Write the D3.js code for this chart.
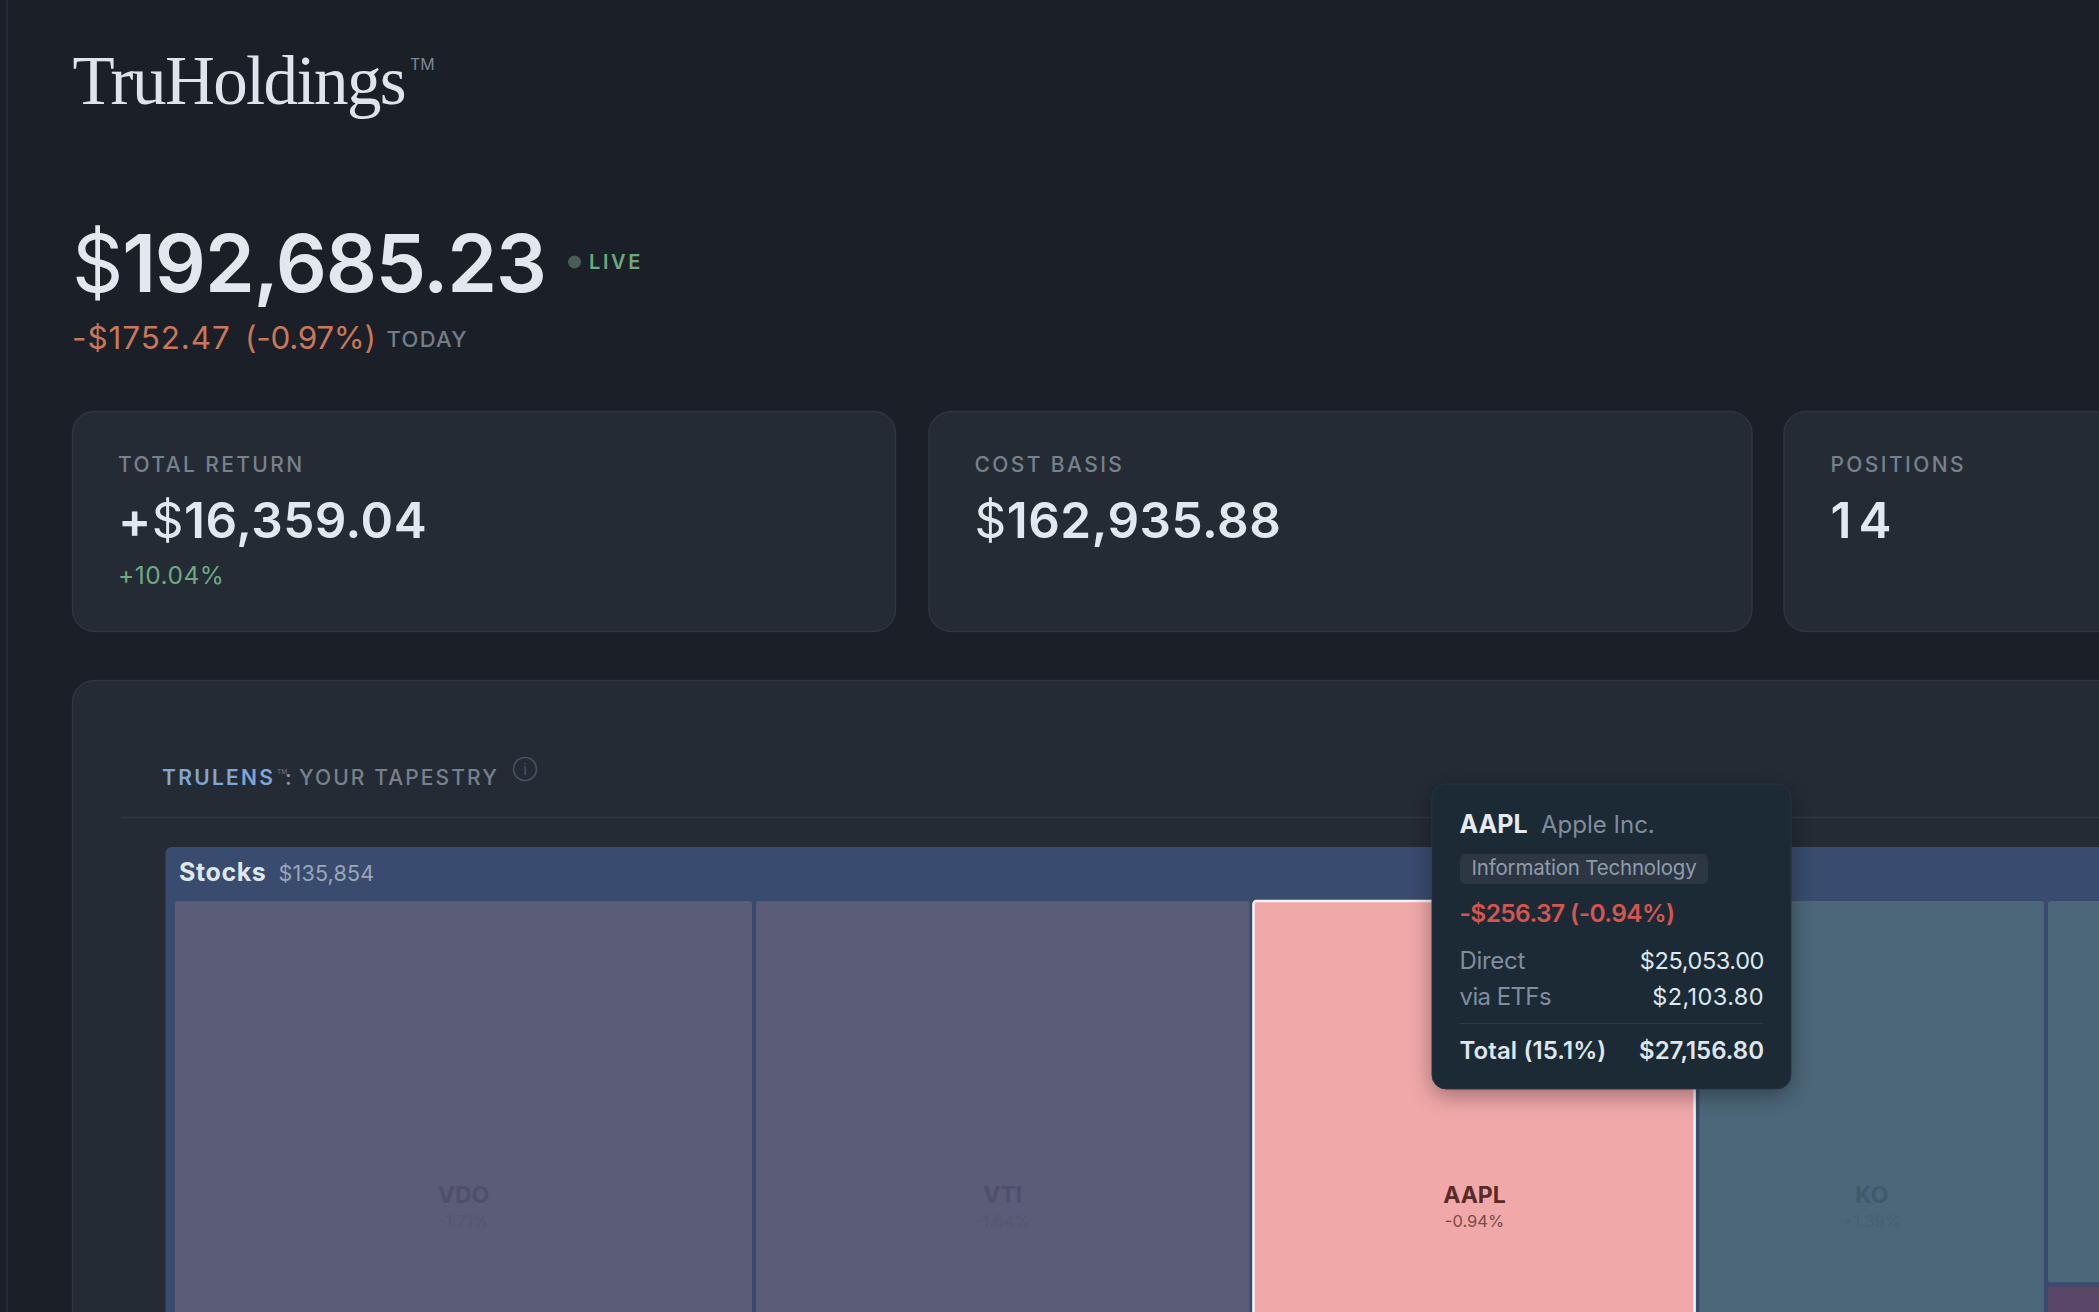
<!DOCTYPE html>
<html>
<head>
<meta charset="utf-8">
<script src="https://cdn.jsdelivr.net/npm/d3@7"></script>
<style>
html, body { margin: 0; padding: 0; background: #1a1f28; overflow: hidden; }
svg { display: block; }
text { font-family: Inter, "Noto Sans", sans-serif; }
</style>
</head>
<body>
<script>
// holdings shown in the tapestry
var tickers = ['VDO', 'VTI', 'AAPL', 'KO'],
	tickerValues = [35370, 30283, 27156.8, 21210],
	tickerChanges = ['-1.71%', '-1.64%', '-0.94%', '+1.39%'],
	sideValues = [13743, 8091],
	groupLabel = 'Stocks',
	groupTotal = '$135,854';

var cards = ['TOTAL RETURN', 'COST BASIS', 'POSITIONS'],
	cardValues = ['16,359.04', '162,935.88', '14'],
	tipRows = ['Direct', 'via ETFs'],
	tipAmounts = ['$25,053.00', '$2,103.80'];

var fills = {VDO: '#5b5c78', VTI: '#5b5c78', AAPL: '#f0a8a8', KO: '#4c6779', side0: '#4c6779', side1: '#5a4666'},
	inks = {VDO: '#4e4f6a', VTI: '#4e4f6a', AAPL: '#5a2a28', KO: '#3f5a6b'},
	subInks = {VDO: '#555671', VTI: '#555671', AAPL: '#7d4a4c', KO: '#466172'};

var svg = d3.select('body').append('svg').attr('width', 2099).attr('height', 1312);

var defs = svg.append('defs');
defs.append('filter').attr('id', 'tip-shadow').attr('x', '-20%').attr('y', '-20%').attr('width', '140%').attr('height', '140%')
	.append('feDropShadow').attr('dx', 0).attr('dy', 6).attr('stdDeviation', 11).attr('flood-color', '#000').attr('flood-opacity', 0.35);

function label(parent, x, y, str, size, weight, color, spacing) {
	return parent.append('text').attr('x', x).attr('y', y).text(str)
		.attr('font-size', size).attr('font-weight', weight).attr('fill', color)
		.attr('letter-spacing', spacing || 0);
}

svg.append('rect').attr('x', 6).attr('y', 0).attr('width', 2).attr('height', 1312).attr('fill', '#252b34');

// header
label(svg, 72.5, 104, 'TruHoldings', 69, 400, '#dfe4ec', -1.6).style('font-family', '"Liberation Serif", serif');
label(svg, 410, 70, 'TM', 16, 400, '#7c8794');

var big = label(svg, 72, 292, '', 80, 600, '#e2e8f0', -1.15);
big.append('tspan').attr('font-weight', 400).text('$');
big.append('tspan').text('192,685.23');
svg.append('circle').attr('cx', 574.5).attr('cy', 262).attr('r', 6.5).attr('fill', '#4a5c58');
label(svg, 589, 269, 'LIVE', 20, 600, '#6caa7e', 2.6);

label(svg, 72, 349, '-$1752.47', 31.5, 400, '#c9775a', 0.9);
label(svg, 245, 349, '(-0.97%)', 31.5, 400, '#c9775a', -0.3);
label(svg, 386.5, 346.5, 'TODAY', 22, 500, '#727d89', 1.3);

// summary cards
var cardX = [72.5, 929, 1784];
cards.forEach(function(name, i) {
	var x = cardX[i], tx = x + 45.5;
	svg.append('rect').attr('x', x).attr('y', 411.5).attr('width', 823).attr('height', 220).attr('rx', 22)
		.attr('fill', '#242b34').attr('stroke', '#2f3640').attr('stroke-width', 1.5);
	label(svg, tx + (i === 2 ? 1 : 0), 471.7, name, 21, 500, '#76818d', 2.4);
	var val = label(svg, tx + (i === 2 ? 1 : 0), 537.7, '', 49.5, 600, '#e2e8f0', i === 2 ? 7 : 0.5);
	if (i === 0) val.append('tspan').text('+');
	if (i < 2) val.append('tspan').attr('font-weight', 400).text('$');
	val.append('tspan').text(cardValues[i]);
});
label(svg, 118, 584, '+10.04%', 24.5, 400, '#6fa882', 0.5);

// tapestry panel
svg.append('rect').attr('x', 72.5).attr('y', 680.5).attr('width', 2200).attr('height', 800).attr('rx', 22)
	.attr('fill', '#242b34').attr('stroke', '#2f3640').attr('stroke-width', 1.5);
label(svg, 162, 785, 'TRULENS', 21, 600, '#7fa6d4', 2.3);
label(svg, 277, 773.5, 'TM', 6.5, 400, '#6f7a86');
label(svg, 285, 785, ':', 21, 600, '#8a95a2');
label(svg, 299, 785, 'YOUR TAPESTRY', 21, 500, '#76818d', 2.1);
svg.append('circle').attr('cx', 525).attr('cy', 769).attr('r', 11.5).attr('fill', 'none').attr('stroke', '#4a5460').attr('stroke-width', 1.5);
label(svg, 525, 775, 'i', 15, 400, '#4a5460').attr('text-anchor', 'middle');
svg.append('rect').attr('x', 121.5).attr('y', 816.5).attr('width', 2000).attr('height', 1.5).attr('fill', '#2f3640');

// treemap: holdings laid out side by side, last column stacked
var children = tickers.map(function(t, i) {
	return {id: t, change: tickerChanges[i], value: tickerValues[i]};
});
children.push({id: 'side', children: sideValues.map(function(v, i) {
	return {id: 'side' + i, value: v};
})});

var root = d3.hierarchy({id: groupLabel, children: children}).sum(function(d) { return d.value || 0; });

d3.treemap()
	.size([2245.6, 671])
	.paddingTop(function(d) { return d.depth === 0 ? 54 : 0; })
	.paddingLeft(function(d) { return d.depth === 0 ? 9.5 : 0; })
	.paddingRight(function(d) { return d.depth === 0 ? 8.5 : 0; })
	.paddingBottom(function(d) { return d.depth === 0 ? 9 : 0; })
	.paddingInner(4)
	.tile(function(node, x0, y0, x1, y1) {
		(node.depth === 0 ? d3.treemapDice : d3.treemapSlice)(node, x0, y0, x1, y1);
	})(root);

var map = svg.append('g').attr('transform', 'translate(165.5,847)');

map.append('rect').attr('x', root.x0).attr('y', root.y0).attr('width', root.x1 - root.x0).attr('height', root.y1 - root.y0)
	.attr('rx', 6).attr('fill', '#394b6e');
label(map, 13.5, 33.7, groupLabel, 25, 700, '#dfe6f0', 0.6);
label(map, 113, 33.7, groupTotal, 21.5, 400, '#9aa6b8', 0.2);

var cell = map.selectAll('g.cell').data(root.leaves()).enter().append('g').attr('class', 'cell')
	.attr('transform', function(d) { return 'translate(' + d.x0 + ',' + d.y0 + ')'; });

cell.append('rect')
	.attr('width', function(d) { return d.x1 - d.x0; })
	.attr('height', function(d) { return d.y1 - d.y0; })
	.attr('rx', 3)
	.attr('fill', function(d) { return fills[d.data.id]; });

// hovered cell gets a white outline
cell.filter(function(d) { return d.data.id === 'AAPL'; }).append('rect')
	.attr('x', 0).attr('y', 0)
	.attr('width', function(d) { return d.x1 - d.x0 - 1; })
	.attr('height', function(d) { return d.y1 - d.y0 - 1; })
	.attr('rx', 3).attr('fill', 'none').attr('stroke', '#f4f4f6').attr('stroke-width', 2.5);

var named = cell.filter(function(d) { return d.data.change; });
named.append('text')
	.attr('x', function(d) { return (d.x1 - d.x0) / 2; })
	.attr('y', function(d) { return (d.y1 - d.y0) / 2 - 2.3; })
	.attr('text-anchor', 'middle').attr('font-size', 23).attr('font-weight', 700)
	.attr('fill', function(d) { return inks[d.data.id]; })
	.text(function(d) { return d.data.id; });
named.append('text')
	.attr('x', function(d) { return (d.x1 - d.x0) / 2; })
	.attr('y', function(d) { return (d.y1 - d.y0) / 2 + 21.7; })
	.attr('text-anchor', 'middle').attr('font-size', 16.5).attr('font-weight', 400)
	.attr('fill', function(d) { return subInks[d.data.id]; })
	.text(function(d) { return d.data.change; });

// tooltip for AAPL
var tip = svg.append('g');
tip.append('rect').attr('x', 1432).attr('y', 784).attr('width', 359).attr('height', 305).attr('rx', 14)
	.attr('fill', '#1f2a36').attr('stroke', '#283340').attr('filter', 'url(#tip-shadow)');
label(tip, 1459.5, 832.7, 'AAPL', 25, 700, '#e6ebf3');
label(tip, 1541, 832.7, 'Apple Inc.', 24, 400, '#7f8d9e');
tip.append('rect').attr('x', 1460).attr('y', 854).attr('width', 248).attr('height', 30).attr('rx', 6).attr('fill', '#2c3743');
label(tip, 1471.5, 875, 'Information Technology', 20.5, 400, '#8f9cab', -0.2);
label(tip, 1459.5, 921.7, '-$256.37 (-0.94%)', 24.5, 600, '#d65550', -0.6);
tipRows.forEach(function(name, i) {
	label(tip, 1459.5, 969 + i * 36, name, 24, 400, '#7f8d9e', i ? -0.6 : -0.3);
	label(tip, 1764, 969 + i * 36, tipAmounts[i], 23.5, 400, '#dfe6f0', i ? 0.4 : -0.4).attr('text-anchor', 'end');
});
tip.append('rect').attr('x', 1460).attr('y', 1023).attr('width', 303).attr('height', 1.2).attr('fill', '#2f3b47');
label(tip, 1459.5, 1058.5, 'Total (15.1%)', 24, 600, '#dfe6f0', 0.1);
label(tip, 1764, 1058.5, '$27,156.80', 24, 600, '#dfe6f0').attr('text-anchor', 'end');
</script>
</body>
</html>
